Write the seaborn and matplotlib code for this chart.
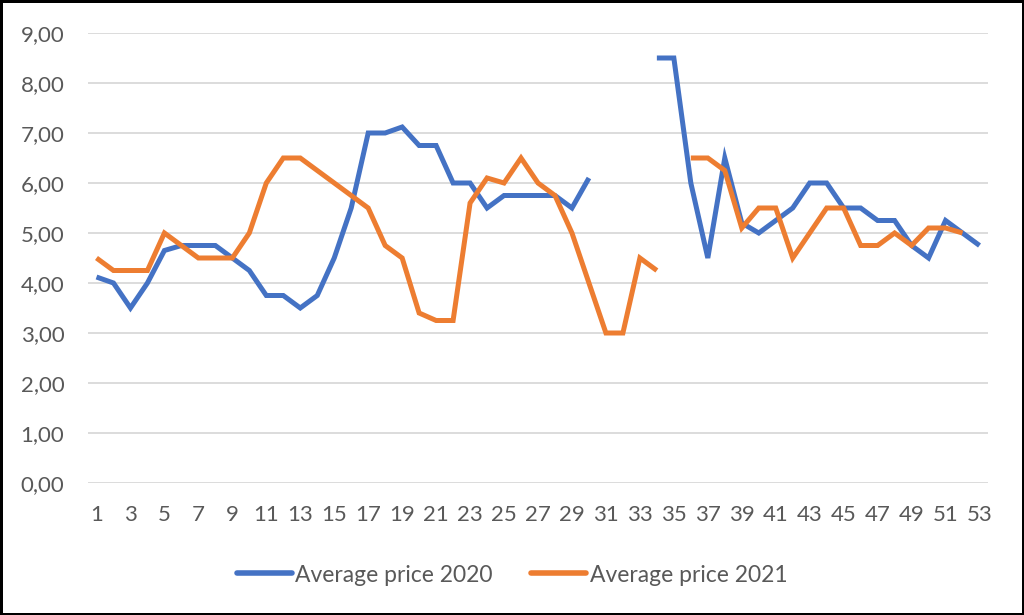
import numpy as np
import pandas as pd
import matplotlib
matplotlib.use("Agg")
import matplotlib.pyplot as plt
from matplotlib.ticker import FuncFormatter
import seaborn as sns

weeks = list(range(1, 54))
nan = np.nan
price_2020 = [4.12, 4.0, 3.5, 4.0, 4.65, 4.75, 4.75, 4.75, 4.5, 4.25,
              3.75, 3.75, 3.5, 3.75, 4.5, 5.5, 7.0, 7.0, 7.12, 6.75,
              6.75, 6.0, 6.0, 5.5, 5.75, 5.75, 5.75, 5.75, 5.5, 6.1,
              nan, nan, nan, 8.5, 8.5, 6.0, 4.5, 6.5, 5.2, 5.0,
              5.25, 5.5, 6.0, 6.0, 5.5, 5.5, 5.25, 5.25, 4.75, 4.5,
              5.25, 5.0, 4.75]
price_2021 = [4.5, 4.25, 4.25, 4.25, 5.0, 4.75, 4.5, 4.5, 4.5, 5.0,
              6.0, 6.5, 6.5, 6.25, 6.0, 5.75, 5.5, 4.75, 4.5, 3.4,
              3.25, 3.25, 5.6, 6.1, 6.0, 6.5, 6.0, 5.75, 5.0, 4.0,
              3.0, 3.0, 4.5, 4.25, nan, 6.5, 6.5, 6.25, 5.1, 5.5,
              5.5, 4.5, 5.0, 5.5, 5.5, 4.75, 4.75, 5.0, 4.75, 5.1,
              5.1, 5.0, nan]
series_names = ["Average price 2020", "Average price 2021"]
colors = ["#4472C4", "#ED7D31"]

# long table, with a segment id so missing weeks leave gaps
frames = []
for name, vals in zip(series_names, [price_2020, price_2021]):
    d = pd.DataFrame({"week": weeks, "price": vals, "series": name})
    d["seg"] = d["price"].isna().cumsum()
    frames.append(d.dropna())
df = pd.concat(frames, ignore_index=True)

sns.set_style("white")
plt.rcParams["font.family"] = ["Lato", "DejaVu Sans"]

fig = plt.figure(figsize=(10.24, 6.15), dpi=100, linewidth=2.5, edgecolor="black")
ax = fig.add_axes([88 / 1024, 1 - 483 / 615, 900 / 1024, 450 / 615])

sns.lineplot(data=df, x="week", y="price", hue="series", units="seg",
             estimator=None, palette=colors, linewidth=3.6, ax=ax,
             solid_capstyle="butt", solid_joinstyle="miter")

ax.set_xlim(0.5, 53.5)
ax.set_ylim(0, 9)
ax.set_yticks(np.arange(0, 10, 1))
ax.yaxis.set_major_formatter(FuncFormatter(lambda v, p: f"{v:.2f}".replace(".", ",")))
ax.set_xticks(weeks[::2])
ax.grid(axis="y", color="#D9D9D9", linewidth=1.3)
ax.set_axisbelow(True)
for s in ax.spines.values():
    s.set_visible(False)
ax.tick_params(axis="both", length=0, labelsize=16, labelcolor="#595959")
ax.tick_params(axis="y", pad=17)
ax.tick_params(axis="x", pad=16)
ax.set_xlabel("")
ax.set_ylabel("")

leg = ax.legend(loc="center", bbox_to_anchor=(512 / 1024, 1 - 575 / 615),
                bbox_transform=fig.transFigure, ncol=2, frameon=False,
                fontsize=16.5, labelcolor="#595959", handlelength=2.4,
                handletextpad=0.15, columnspacing=1.7)
for line in leg.get_lines():
    line.set_linewidth(4)
    line.set_solid_capstyle("round")

fig.savefig("out.png", dpi=100, edgecolor=fig.get_edgecolor())
